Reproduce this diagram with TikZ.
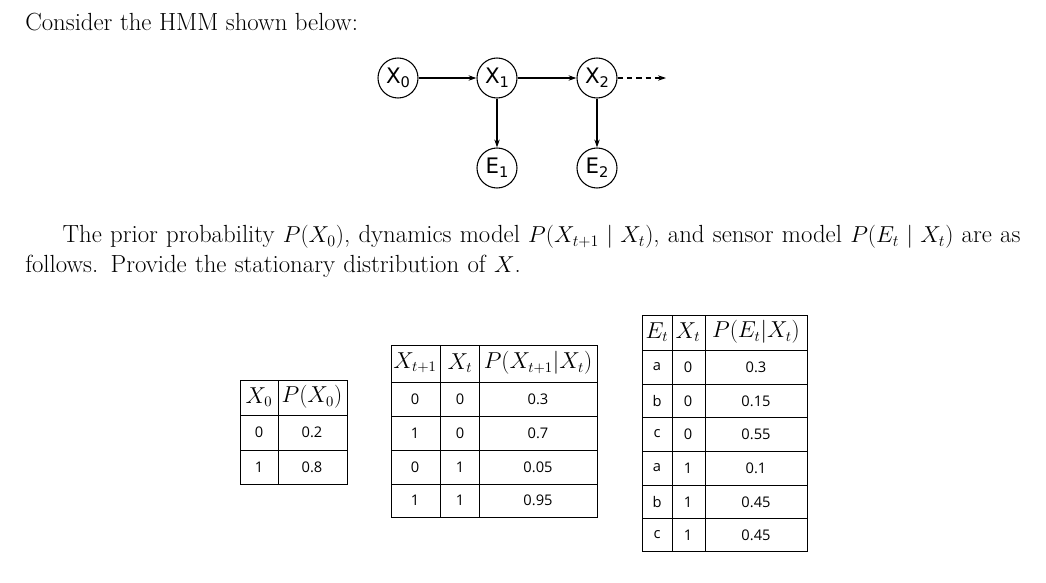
\documentclass[tikz,border=0pt]{standalone}
\usepackage{fontspec}
\newfontfamily\gsans{DejaVu Sans}
\newfontfamily\tsans{Open Sans}
\usetikzlibrary{arrows.meta}
\newcommand{\gsub}[1]{\raisebox{-3pt}{\fontsize{11}{11}\selectfont #1}}
\tikzset{
  var/.style={circle,draw,line width=0.8pt,minimum size=30pt,inner sep=0pt,font=\gsans\fontsize{16}{16}\selectfont},
  edge/.style={-{Stealth[length=6pt,width=4pt]},line width=0.8pt},
  grid/.style={line width=0.5pt},
  cell/.style={font=\tsans\fontsize{11}{12}\selectfont,inner sep=0pt},
  hcell/.style={font=\fontsize{16}{16}\selectfont,inner sep=0pt},
  txt/.style={font=\fontsize{18.6}{22.5}\selectfont,inner sep=0pt,anchor=north west,align=left}
}
\begin{document}
\begin{tikzpicture}[x=0.75pt,y=-0.75pt]
\useasboundingbox (0,0) rectangle (1046,582);
\node[txt] (t1) at (25,13) {Consider the HMM shown below:};
\node[txt,text width=752pt] (t2) at (25,225) {\hspace*{28pt}The prior probability $P(X_0)$, dynamics model $P(X_{t+1}\mid X_t)$, and sensor model $P(E_t\mid X_t)$ are as follows. Provide the stationary distribution of $X$.};
% HMM
\node[var] (x0) at (398,78) {X\gsub{0}};
\node[var] (x1) at (497,78) {X\gsub{1}};
\node[var] (x2) at (597,78) {X\gsub{2}};
\node[var] (e1) at (497,168) {E\gsub{1}};
\node[var] (e2) at (597,168) {E\gsub{2}};
\coordinate (xe) at (666,78);
\draw[edge] (x0) -- (x1);
\draw[edge] (x1) -- (x2);
\draw[edge] (x1) -- (e1);
\draw[edge] (x2) -- (e2);
\draw[edge,dash pattern=on 4pt off 3pt] (x2) -- (xe);
% Table 1
\draw[grid] (240,380) rectangle (347,484);
\foreach \y in {415,450} \draw[grid] (240,\y) -- (347,\y);
\draw[grid] (278,380) -- (278,484);
\node[hcell] at (259,397) {$X_0$};
\node[hcell] at (312,397) {$P(X_0)$};
\foreach \a/\b/\y in {0/0.2/432,1/0.8/467}{
  \node[cell] at (259,\y) {\a}; \node[cell] at (312,\y) {\b};}
% Table 2
\draw[grid] (391,345) rectangle (597,517);
\foreach \y in {382,416,450,484} \draw[grid] (391,\y) -- (597,\y);
\draw[grid] (440,345) -- (440,517);
\draw[grid] (479,345) -- (479,517);
\node[hcell] at (415,363) {$X_{t+1}$};
\node[hcell] at (460,363) {$X_t$};
\node[hcell] at (538,363) {$P(X_{t+1}|X_t)$};
\foreach \a/\b/\c/\y in {0/0/0.3/399,1/0/0.7/433,0/1/0.05/467,1/1/0.95/500}{
  \node[cell] at (415,\y) {\a}; \node[cell] at (460,\y) {\b}; \node[cell] at (538,\y) {\c};}
% Table 3
\draw[grid] (642,315) rectangle (807,551);
\foreach \y in {350,384,417,451,485,518} \draw[grid] (642,\y) -- (807,\y);
\draw[grid] (672,315) -- (672,551);
\draw[grid] (705,315) -- (705,551);
\node[hcell] at (657,332) {$E_t$};
\node[hcell] at (688,332) {$X_t$};
\node[hcell] at (756,332) {$P(E_t|X_t)$};
\foreach \a/\b/\c/\y in {a/0/0.3/367,b/0/0.15/401,c/0/0.55/434,a/1/0.1/468,b/1/0.45/502,c/1/0.45/535}{
  \node[cell] at (657,\y) {\a}; \node[cell] at (688,\y) {\b}; \node[cell] at (756,\y) {\c};}
\end{tikzpicture}
\end{document}
